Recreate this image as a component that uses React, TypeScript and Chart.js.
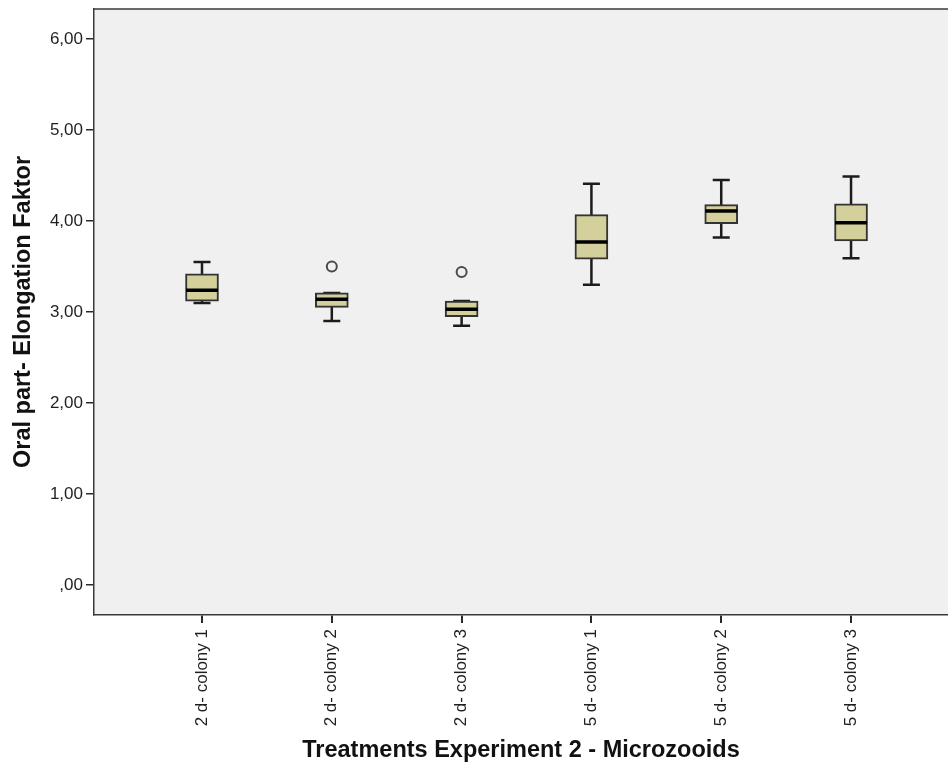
import { useEffect, useRef } from "react";
import { Chart, registerables } from "chart.js";

Chart.register(...registerables);

// Treatment groups along the x axis
const categories = [
  "2 d- colony 1",
  "2 d- colony 2",
  "2 d- colony 3",
  "5 d- colony 1",
  "5 d- colony 2",
  "5 d- colony 3",
];

// Five-number summaries per group
const whiskerLow = [3.1, 2.9, 2.85, 3.3, 3.82, 3.59];
const quartile1 = [3.12, 3.05, 2.95, 3.58, 3.97, 3.78];
const medians = [3.24, 3.14, 3.03, 3.77, 4.11, 3.98];
const quartile3 = [3.42, 3.21, 3.12, 4.07, 4.18, 4.19];
const whiskerHigh = [3.55, 3.21, 3.12, 4.41, 4.45, 4.49];

// Outliers: group position (1-based) and value
const outlierGroup = [2, 3];
const outlierValues = [3.5, 3.44];

const yTicks = [0, 1, 2, 3, 4, 5, 6];

const FONT = '"Liberation Sans", Arial, sans-serif';

const formatTick = (v: number) => v.toFixed(2).replace(".", ",").replace(/^0/, "");

const boxPlotPlugin = {
  id: "boxWhiskers",
  beforeDraw(chart: any) {
    const { ctx, chartArea: a } = chart;
    ctx.save();
    ctx.fillStyle = "#F0F0F0";
    ctx.fillRect(a.left, a.top, a.right - a.left, a.bottom - a.top);
    ctx.strokeStyle = "#3a3a3a";
    ctx.lineWidth = 1.5;
    ctx.beginPath();
    ctx.moveTo(a.left, a.top);
    ctx.lineTo(a.right, a.top);
    ctx.stroke();
    ctx.restore();
  },
  beforeDatasetsDraw(chart: any) {
    const { ctx } = chart;
    const xs = chart.scales.x;
    const ys = chart.scales.y;
    const capHalf = 8.5;
    ctx.save();
    ctx.strokeStyle = "#1c1c1c";
    ctx.lineWidth = 2.5;
    categories.forEach((_, i) => {
      const x = xs.getPixelForValue(i + 1);
      const yLo = ys.getPixelForValue(whiskerLow[i]);
      const yHi = ys.getPixelForValue(whiskerHigh[i]);
      ctx.beginPath();
      ctx.moveTo(x, yLo);
      ctx.lineTo(x, yHi);
      ctx.moveTo(x - capHalf, yLo);
      ctx.lineTo(x + capHalf, yLo);
      ctx.moveTo(x - capHalf, yHi);
      ctx.lineTo(x + capHalf, yHi);
      ctx.stroke();
    });
    ctx.restore();
  },
  afterDatasetsDraw(chart: any) {
    const { ctx } = chart;
    const xs = chart.scales.x;
    const ys = chart.scales.y;
    const half = 16;
    ctx.save();
    ctx.strokeStyle = "#000000";
    ctx.lineWidth = 3.5;
    categories.forEach((_, i) => {
      const x = xs.getPixelForValue(i + 1);
      const y = ys.getPixelForValue(medians[i]);
      ctx.beginPath();
      ctx.moveTo(x - half, y);
      ctx.lineTo(x + half, y);
      ctx.stroke();
    });
    ctx.restore();
  },
};

export default function App() {
  const canvasRef = useRef<HTMLCanvasElement | null>(null);

  useEffect(() => {
    document.body.style.margin = "0";
    const canvas = canvasRef.current;
    if (!canvas) return;

    const chart = new Chart(canvas, {
      type: "bar",
      data: {
        datasets: [
          {
            type: "bar",
            data: categories.map((_, i) => ({ x: i + 1, y: [quartile1[i], quartile3[i]] })) as any,
            backgroundColor: "#D4D09B",
            borderColor: "#333333",
            borderWidth: 2,
            borderSkipped: false,
            barThickness: 33,
            order: 2,
          },
          {
            type: "scatter",
            data: outlierGroup.map((g, k) => ({ x: g, y: outlierValues[k] })),
            pointStyle: "circle",
            pointRadius: 5,
            borderColor: "#4a4a4a",
            borderWidth: 2,
            backgroundColor: "rgba(0,0,0,0)",
            order: 1,
          } as any,
        ],
      },
      options: {
        animation: false,
        responsive: true,
        maintainAspectRatio: false,
        layout: { autoPadding: false, padding: { top: 9, right: 0, bottom: 0, left: 0 } },
        plugins: {
          legend: { display: false },
          tooltip: { enabled: false },
        },
        scales: {
          x: {
            type: "linear",
            offset: false,
            min: 0.168,
            max: 6.747,
            afterBuildTicks: (s: any) => {
              s.ticks = categories.map((_, i) => ({ value: i + 1 }));
            },
            afterFit: (s: any) => {
              s.height = 154;
              s.paddingLeft = 0;
              s.paddingRight = 0;
            },
            ticks: {
              autoSkip: false,
              minRotation: 90,
              maxRotation: 90,
              padding: 6,
              color: "#1f1f1f",
              font: { family: FONT, size: 17 },
              callback: (v: any) => categories[Number(v) - 1] ?? "",
            },
            grid: {
              offset: false,
              drawOnChartArea: false,
              drawTicks: true,
              tickLength: 8,
              color: "#2a2a2a",
              lineWidth: 2,
            },
            border: { display: true, color: "#3a3a3a", width: 1.5 },
            title: {
              display: true,
              text: "Treatments Experiment 2 - Microzooids",
              color: "#111111",
              font: { family: FONT, size: 23.5, weight: "bold" },
              padding: { top: 0, bottom: 4 },
            },
          },
          y: {
            type: "linear",
            min: -0.33,
            max: 6.33,
            afterBuildTicks: (s: any) => {
              s.ticks = yTicks.map((v) => ({ value: v }));
            },
            afterFit: (s: any) => {
              s.width = 94;
              s.paddingTop = 0;
              s.paddingBottom = 0;
            },
            ticks: {
              padding: 3,
              color: "#1f1f1f",
              font: { family: FONT, size: 17 },
              callback: (v: any) => formatTick(Number(v)),
            },
            grid: {
              drawOnChartArea: false,
              drawTicks: true,
              tickLength: 8,
              color: "#2a2a2a",
              lineWidth: 1.5,
            },
            border: { display: true, color: "#3a3a3a", width: 1.5 },
            title: {
              display: true,
              text: "Oral part- Elongation Faktor",
              color: "#111111",
              font: { family: FONT, size: 23.5, weight: "bold" },
              padding: { top: 9, bottom: 0 },
            },
          },
        },
      },
      plugins: [boxPlotPlugin],
    });

    return () => chart.destroy();
  }, []);

  return (
    <div style={{ position: "relative", width: 948, height: 769 }}>
      <canvas ref={canvasRef} />
    </div>
  );
}
